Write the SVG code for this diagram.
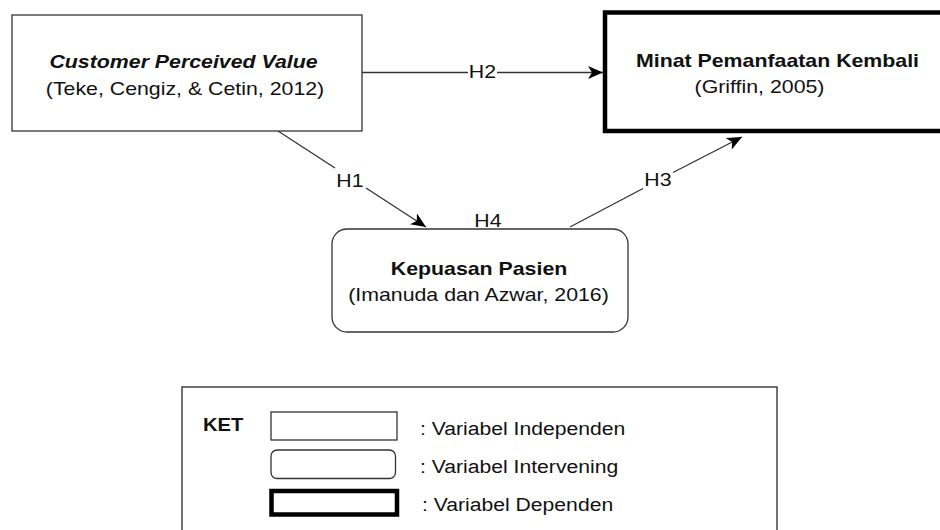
<svg xmlns="http://www.w3.org/2000/svg" width="940" height="530" viewBox="0 0 940 530">
<defs>
<style>
text{font-family:"Liberation Sans",Arial,sans-serif;font-size:18px;fill:#111}
.m{text-anchor:middle}
.b{font-weight:bold}
.bi{font-weight:bold;font-style:italic}
.box{fill:#fff;stroke:#333;stroke-width:1.3}
.dep{fill:#fff;stroke:#000;stroke-width:4.5}
.edge{fill:none;stroke:#333;stroke-width:1.3}
</style>
<marker id="arr" viewBox="0 0 15 13" markerWidth="15" markerHeight="13" refX="15" refY="6.5" orient="auto" markerUnits="userSpaceOnUse">
<path d="M0,0 L15,6.5 L0,13 L4,6.5 Z" fill="#000"/>
</marker>
</defs>
<rect width="940" height="530" fill="#fff"/>

<g id="connectors">
<path class="edge" d="M362,72.5 L468,72.5"/>
<path class="edge" d="M497,72.5 L603,72.5" marker-end="url(#arr)"/>
<path class="edge" d="M278,131 L335,168"/>
<path class="edge" d="M366,188 L426,227" marker-end="url(#arr)"/>
<path class="edge" d="M570,227 L643,188.5"/>
<path class="edge" d="M673,172.5 L742,137" marker-end="url(#arr)"/>
<text class="m" transform="translate(482.5,77.5) scale(1.185,1)">H2</text>
<text class="m" transform="translate(350,186.5) scale(1.185,1)">H1</text>
<text class="m" transform="translate(658,186) scale(1.185,1)">H3</text>
<text class="m" transform="translate(488,227) scale(1.185,1)">H4</text>
</g>

<g id="cpv">
<rect class="box" x="12" y="15" width="350" height="116"/>
<text class="m bi" transform="translate(183.5,67.5) scale(1.185,1)">Customer Perceived Value</text>
<text class="m" transform="translate(185,94.5) scale(1.185,1)">(Teke, Cengiz, &amp; Cetin, 2012)</text>
</g>

<g id="minat">
<rect class="dep" x="605" y="12.5" width="345" height="118.5"/>
<text class="m b" transform="translate(777.5,66.5) scale(1.185,1)">Minat Pemanfaatan Kembali</text>
<text class="m" transform="translate(759.5,92.5) scale(1.185,1)">(Griffin, 2005)</text>
</g>

<g id="kepuasan">
<rect class="box" x="332" y="229" width="296" height="103" rx="15" ry="15"/>
<text class="m b" transform="translate(479,275) scale(1.185,1)">Kepuasan Pasien</text>
<text class="m" transform="translate(478.5,300.5) scale(1.185,1)">(Imanuda dan Azwar, 2016)</text>
</g>

<g id="legend">
<rect x="182" y="387" width="595" height="160" fill="#fff" stroke="#444" stroke-width="1.5"/>
<text class="b" transform="translate(203,431) scale(1.12,1)">KET</text>
<rect class="box" x="271" y="412" width="126" height="28"/>
<rect class="box" x="271" y="450" width="124.5" height="28.5" rx="6" ry="6"/>
<rect x="271.5" y="491" width="125.5" height="23.5" fill="#fff" stroke="#000" stroke-width="4.5"/>
<text transform="translate(420,435) scale(1.175,1)">: Variabel Independen</text>
<text transform="translate(420,473) scale(1.175,1)">: Variabel Intervening</text>
<text transform="translate(422,511) scale(1.175,1)">: Variabel Dependen</text>
</g>
</svg>
